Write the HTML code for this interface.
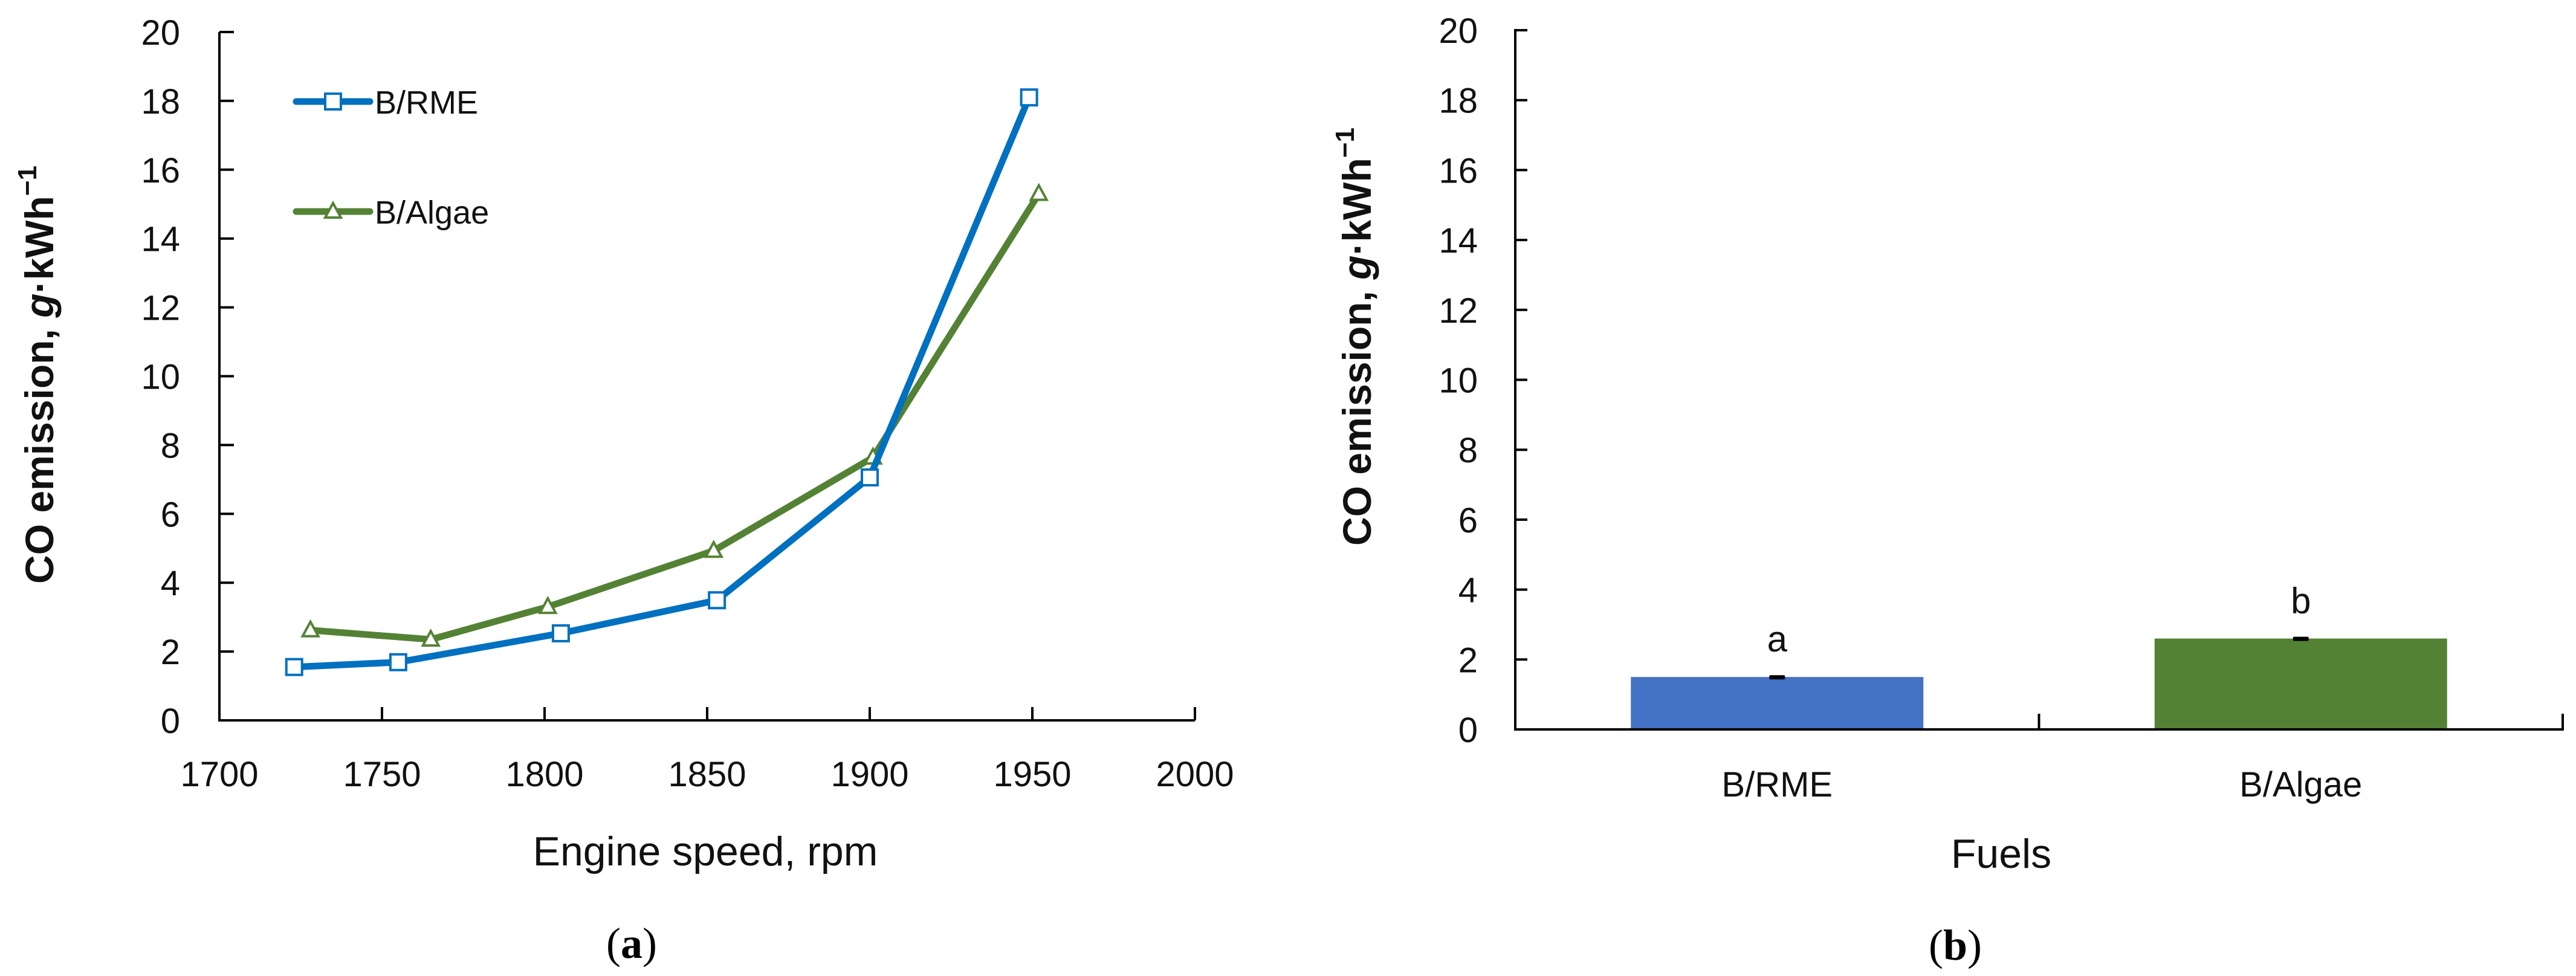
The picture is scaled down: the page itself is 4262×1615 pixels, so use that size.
<!DOCTYPE html>
<html><head><meta charset="utf-8"><style>
html,body{margin:0;padding:0;background:#fff;}
svg{display:block;font-family:"Liberation Sans",sans-serif;}
</style></head><body>
<svg id="fig" width="4262" height="1615" viewBox="0 0 4262 1615" xmlns="http://www.w3.org/2000/svg"></svg>
<script>
const lineX = [1723, 1755, 1805, 1853, 1900, 1949];
const rmeY = [1.55, 1.69, 2.53, 3.49, 7.06, 18.1];
const algaeX = [1728, 1765, 1801, 1852, 1901, 1952];
const algaeY = [2.62, 2.35, 3.3, 4.93, 7.64, 15.3];
const xTicks = [1700, 1750, 1800, 1850, 1900, 1950, 2000];
const yTicks = [0, 2, 4, 6, 8, 10, 12, 14, 16, 18, 20];
const barCats = ["B/RME", "B/Algae"];
const barVals = [1.5, 2.6];
const barLetters = ["a", "b"];

const NS = "http://www.w3.org/2000/svg";
const svg = document.getElementById("fig");
function mk(tag, attrs, parent, text){
  const e = document.createElementNS(NS, tag);
  for (const k in attrs) e.setAttribute(k, attrs[k]);
  if (text !== undefined) e.textContent = text;
  (parent || svg).appendChild(e);
  return e;
}
// ---------- Chart (a) ----------
const ax = {x0:363, x1:1977, y0:1192, y1:53};
const sxA = v => ax.x0 + (v-1700)/300*(ax.x1-ax.x0);
const syA = v => ax.y0 - v/20*(ax.y0-ax.y1);
const gA = mk("g", {});


const axA = mk("path", {d:`M${ax.x0},${ax.y1} V${ax.y0} H${ax.x1}`, stroke:"#000", "stroke-width":4, fill:"none"}, gA);


yTicks.forEach(v=>{
  const y = syA(v);
  const t = mk("line", {x1:ax.x0, x2:ax.x0+24, y1:y, y2:y, stroke:"#000","stroke-width":4}, gA);
  
  
  const l = mk("text", {x:298, y:y+21, "text-anchor":"end", "font-size":58, fill:"#111"}, gA, String(v));
  
  
});
xTicks.forEach(v=>{
  const x = sxA(v);
  const t = mk("line", {x1:x, x2:x, y1:ax.y0, y2:ax.y0-22, stroke:"#000","stroke-width":4}, gA);
  
  
  const l = mk("text", {x:x, y:1301, "text-anchor":"middle", "font-size":58, fill:"#111"}, gA, String(v));
  
  
});
function series(xs, ys, color, marker, name){
  const pts = xs.map((x,i)=>`${sxA(x)},${syA(ys[i])}`).join(" ");
  const pl = mk("polyline", {points:pts, fill:"none", stroke:color, "stroke-width":11, "stroke-linejoin":"round", "stroke-linecap":"round"}, gA);
  
  
  xs.forEach((x,i)=>{
    const cx = sxA(x), cy = syA(ys[i]);
    let m;
    if (marker==="square") m = mk("rect", {x:cx-13, y:cy-13, width:26, height:26, fill:"#fff", stroke:color, "stroke-width":4}, gA);
    else m = mk("polygon", {points:`${cx},${cy-14} ${cx+13},${cy+10} ${cx-13},${cy+10}`, fill:"#fff", stroke:color, "stroke-width":4}, gA);
    
    
  });
}
series(algaeX, algaeY, "#548235", "tri", "b-algae");
series(lineX, rmeY, "#0070C0", "square", "b-rme");
function legend(y, color, marker, label, name){
  const g = mk("g", {}, gA);
  
  
  mk("line", {x1:490, x2:612, y1:y, y2:y, stroke:color, "stroke-width":11, "stroke-linecap":"round"}, g);
  if (marker==="square") mk("rect", {x:538, y:y-13, width:26, height:26, fill:"#fff", stroke:color, "stroke-width":4}, g);
  else mk("polygon", {points:`551,${y-14} 564,${y+10} 538,${y+10}`, fill:"#fff", stroke:color, "stroke-width":4}, g);
  mk("text", {x:620, y:y+20, "font-size":54, fill:"#111"}, g, label);
}
legend(168, "#0070C0", "square", "B/RME", "legend-entry-rme");
legend(350, "#548235", "tri", "B/Algae", "legend-entry-algae");
const xtA = mk("text", {x:1167, y:1432, "text-anchor":"middle", "font-size":68, fill:"#111"}, gA, "Engine speed, rpm");


function yTitle(cx, cy, parent, name){
  const t = mk("text", {x:0, y:0, transform:`translate(${cx},${cy}) rotate(-90)`, "text-anchor":"middle", "font-size":66, fill:"#111", "font-weight":"bold"}, parent);
  
  
  mk("tspan", {}, t, "CO emission, ");
  mk("tspan", {"font-style":"italic"}, t, "g");
  mk("tspan", {}, t, "·kWh");
  mk("tspan", {"font-size":44, dy:-28}, t, "−1");
}
yTitle(88, 620, gA, "y-axis-title-a");
const capA = mk("text", {x:1045, y:1585, "text-anchor":"middle", "font-size":72, "font-family":"Liberation Serif, serif", fill:"#000"}, gA);


mk("tspan", {}, capA, "(");
mk("tspan", {"font-weight":"bold"}, capA, "a");
mk("tspan", {}, capA, ")");

// ---------- Chart (b) ----------
const bx = {x0:2507, x1:4240, y0:1207, y1:50};
const syB = v => bx.y0 - v/20*(bx.y0-bx.y1);
const band = (bx.x1-bx.x0)/barCats.length;
const gB = mk("g", {});


const colors = ["#4472C4", "#548235"];
barCats.forEach((c,i)=>{
  const cx = bx.x0 + band*(i+0.5);
  const w = 484;
  const top = syB(barVals[i]);
  const r = mk("rect", {x:cx-w/2, y:top, width:w, height:bx.y0-top, fill:colors[i]}, gB);
  
  
  const eb = mk("rect", {x:cx-13, y:top-3, width:26, height:7, rx:2, fill:"#000"}, gB);
  
  
  const lt = mk("text", {x:cx, y:top-42, "text-anchor":"middle", "font-size":60, fill:"#111"}, gB, barLetters[i]);
  
  
  const cl = mk("text", {x:cx, y:1318, "text-anchor":"middle", "font-size":58, fill:"#111"}, gB, c);
  
  
});
const axB = mk("path", {d:`M${bx.x0+20},${bx.y1} H${bx.x0} V${bx.y0} H${bx.x1} V${bx.y0-26}`, stroke:"#000", "stroke-width":4, fill:"none"}, gB);


for (let i=1;i<barCats.length;i++){
  const x = bx.x0 + band*i;
  const t = mk("line", {x1:x, x2:x, y1:bx.y0, y2:bx.y0-26, stroke:"#000","stroke-width":4}, gB);
  
  
}
yTicks.forEach(v=>{
  const y = syB(v);
  const t = mk("line", {x1:bx.x0, x2:bx.x0+20, y1:y, y2:y, stroke:"#000","stroke-width":4}, gB);
  
  
  const l = mk("text", {x:2445, y:y+21, "text-anchor":"end", "font-size":58, fill:"#111"}, gB, String(v));
  
  
});
const xtB = mk("text", {x:3311, y:1436, "text-anchor":"middle", "font-size":68, fill:"#111"}, gB, "Fuels");


yTitle(2268, 557, gB, "y-axis-title-b");
const capB = mk("text", {x:3235, y:1588, "text-anchor":"middle", "font-size":72, "font-family":"Liberation Serif, serif", fill:"#000"}, gB);


mk("tspan", {}, capB, "(");
mk("tspan", {"font-weight":"bold"}, capB, "b");
mk("tspan", {}, capB, ")");
</script>
</body></html>
